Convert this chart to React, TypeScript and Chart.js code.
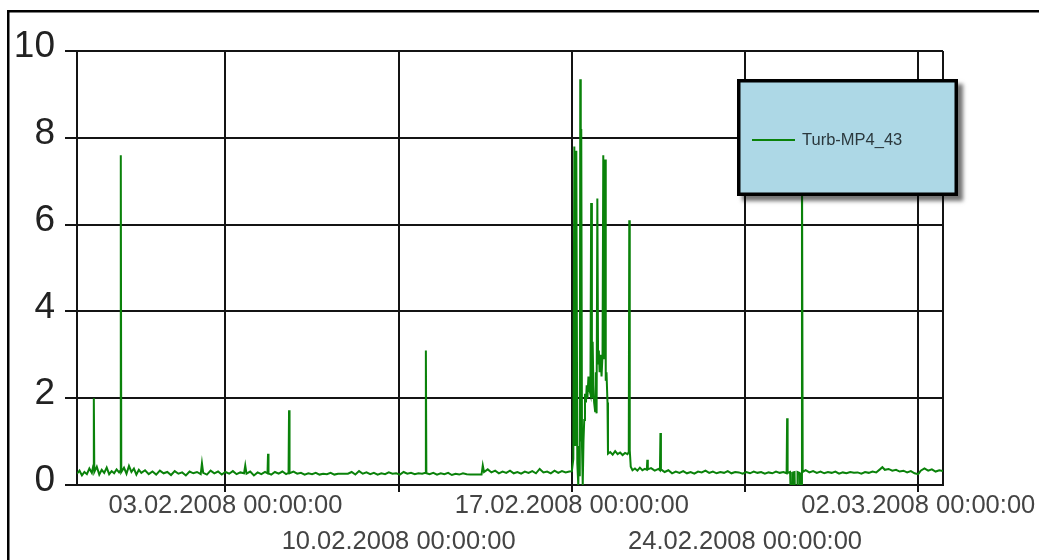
import React, { useEffect, useRef } from "react";
import { Chart, registerables } from "chart.js";

Chart.register(...registerables);

// Days since 28.01.2008 00:00
const sampleDays = [
  0.0, 0.1, 0.2, 0.3, 0.4, 0.5, 0.6, 0.66, 0.68, 0.7, 0.8, 0.9, 1.0, 1.1, 1.2, 1.3, 1.4, 1.5, 1.6, 1.7, 1.75, 1.77, 1.79,
  1.9, 2.0, 2.1, 2.2, 2.3, 2.4, 2.5, 2.6, 2.75, 2.9, 3.05, 3.2, 3.35, 3.5, 3.65, 3.8, 3.95, 4.1, 4.25, 4.4, 4.55, 4.7,
  4.85, 5.0, 5.05, 5.1, 5.25, 5.4, 5.55, 5.7, 5.85, 6.0, 6.15, 6.3, 6.45, 6.6, 6.75, 6.8, 6.85, 7.0, 7.15, 7.3, 7.45,
  7.6, 7.7, 7.72, 7.74, 7.85, 8.0, 8.15, 8.3, 8.45, 8.55, 8.57, 8.59, 8.75, 8.9, 9.05, 9.2, 9.35, 9.5, 9.65, 9.8, 9.95,
  10.1, 10.25, 10.4, 10.55, 10.95, 11.1, 11.25, 11.4, 11.55, 11.7, 11.85, 12.0, 12.15, 12.3, 12.45, 12.6, 12.75, 12.9,
  13.05, 13.2, 13.35, 13.5, 13.65, 13.8, 13.95, 14.08, 14.1, 14.12, 14.25, 14.4, 14.55, 14.7, 14.85, 15.0, 15.15, 15.3,
  15.45, 15.6, 15.75, 15.9, 16.35, 16.4, 16.45, 16.6, 16.75, 16.9, 17.05, 17.2, 17.35, 17.5, 17.65, 17.8, 17.95, 18.1,
  18.25, 18.4, 18.55, 18.7, 18.85, 19.0, 19.15, 19.3, 19.45, 19.6, 19.75, 19.9,
  20.0, 20.06, 20.1, 20.14, 20.18, 20.22, 20.26, 20.29, 20.32, 20.34, 20.36, 20.38, 20.41, 20.44, 20.47, 20.5, 20.53,
  20.57, 20.6, 20.63, 20.67, 20.71, 20.75, 20.78, 20.81, 20.84, 20.87, 20.9, 20.94, 20.97, 21.0, 21.03, 21.06, 21.09,
  21.12, 21.16, 21.2, 21.24, 21.27, 21.3, 21.34, 21.37, 21.4, 21.44, 21.46, 21.55, 21.65, 21.75, 21.85, 21.95, 22.05,
  22.15, 22.25, 22.3, 22.32, 22.34, 22.38, 22.45, 22.55, 22.65, 22.75, 22.85, 22.95, 23.03, 23.05, 23.07, 23.2, 23.35,
  23.5, 23.56, 23.58, 23.6, 23.75, 23.9, 24.05, 24.2, 24.35, 24.5, 24.65, 24.8, 24.95, 25.1, 25.25, 25.4, 25.55, 25.7,
  25.85, 26.0, 26.15, 26.3, 26.45, 26.6, 26.75, 26.9, 27.05, 27.2, 27.35, 27.5, 27.65, 27.8, 27.95, 28.1, 28.25, 28.4,
  28.55, 28.68, 28.7, 28.72, 28.82, 28.85, 28.92, 28.94, 29.0, 29.02, 29.1, 29.12, 29.2, 29.22, 29.28, 29.3, 29.33,
  29.45, 29.6, 29.75, 29.9, 30.05, 30.2, 30.35, 30.5, 30.65, 30.8, 30.95, 31.1, 31.25, 31.4, 31.55, 31.7, 31.85, 32.0,
  32.15, 32.3, 32.45, 32.55, 32.65, 32.8, 32.95, 33.1, 33.25, 33.4, 33.55, 33.7, 33.85, 34.0, 34.1, 34.25, 34.4, 34.55,
  34.7, 34.85, 35.0,
];

const turbidity = [
  0.26, 0.33, 0.22, 0.3, 0.25, 0.38, 0.28, 0.45, 2.0, 0.3, 0.42, 0.24, 0.35, 0.28, 0.4, 0.25, 0.32, 0.27, 0.36, 0.29, 0.33, 7.6, 0.3,
  0.4, 0.26, 0.44, 0.3, 0.38, 0.24, 0.35, 0.28, 0.34, 0.25, 0.31, 0.24, 0.33, 0.27, 0.3, 0.23, 0.32, 0.26, 0.29, 0.22, 0.31, 0.27,
  0.3, 0.25, 0.5, 0.28, 0.24, 0.33, 0.27, 0.31, 0.24, 0.3, 0.26, 0.32, 0.25, 0.29, 0.27, 0.45, 0.26, 0.31, 0.22, 0.29, 0.25,
  0.3, 0.27, 0.72, 0.27, 0.24, 0.3, 0.26, 0.31, 0.25, 0.28, 1.72, 0.27, 0.31, 0.26, 0.28, 0.24, 0.27, 0.25, 0.28, 0.24, 0.26,
  0.25, 0.28, 0.24, 0.26, 0.26, 0.3, 0.24, 0.32, 0.26, 0.29, 0.25, 0.28, 0.24, 0.27, 0.25, 0.29, 0.26, 0.27,
  0.24, 0.3, 0.26, 0.28, 0.25, 0.27, 0.26, 0.28, 3.1, 0.27, 0.25, 0.28, 0.24, 0.27, 0.25, 0.28, 0.23, 0.26,
  0.24, 0.27, 0.25, 0.24, 0.24, 0.45, 0.3, 0.36, 0.29, 0.33, 0.27, 0.31, 0.28, 0.33, 0.27, 0.3, 0.26, 0.31,
  0.28, 0.32, 0.27, 0.37, 0.29, 0.31, 0.27, 0.33, 0.28, 0.32, 0.29, 0.31,
  0.32, 0.6, 7.8, 0.9, 7.7, 0.5, 0.0, 0.9, 0.2, 9.35, 1.0, 8.2, 0.9, 0.0, 1.0, 1.5, 2.1,
  1.9, 2.3, 2.0, 2.5, 2.2, 2.1, 6.5, 2.0, 3.3, 2.3, 1.9, 1.7, 2.6, 1.65, 6.6, 2.8, 3.1,
  2.6, 3.0, 2.5, 3.0, 7.6, 2.9, 7.5, 2.4, 2.6, 1.9, 0.72, 0.76, 0.7, 0.78, 0.71, 0.75, 0.69,
  0.74, 0.71, 0.76, 6.1, 0.8, 0.42, 0.34, 0.38, 0.33, 0.4, 0.34, 0.37, 0.35, 0.58, 0.36, 0.39, 0.33,
  0.37, 0.34, 1.2, 0.36, 0.3, 0.34, 0.27, 0.31, 0.28, 0.32, 0.27, 0.3, 0.26, 0.31, 0.29, 0.33, 0.28, 0.31,
  0.27, 0.3, 0.28, 0.32, 0.27, 0.3, 0.29, 0.26, 0.3, 0.27, 0.31, 0.28, 0.3, 0.26, 0.29, 0.27, 0.31, 0.28,
  0.3, 0.27, 1.54, 0.28, 0.3, -0.3, -0.3, 0.29, 0.3, -0.3, -0.3, 0.3, 0.28, -0.3, -0.3, 8.0, 0.3,
  0.34, 0.29, 0.32, 0.28, 0.31, 0.27, 0.3, 0.28, 0.31, 0.26, 0.29, 0.27, 0.3, 0.28, 0.29, 0.26, 0.3, 0.28,
  0.31, 0.29, 0.36, 0.41, 0.35, 0.37, 0.33, 0.35, 0.31, 0.33, 0.29, 0.32, 0.27, 0.25, 0.33, 0.38, 0.33, 0.36,
  0.31, 0.34, 0.32,
];

const seriesName = "Turb-MP4_43";
const xTickDays = [6, 13, 20, 27, 34];
const xTickLabels = [
  "03.02.2008 00:00:00",
  "10.02.2008 00:00:00",
  "17.02.2008 00:00:00",
  "24.02.2008 00:00:00",
  "02.03.2008 00:00:00",
];
const xMinDay = 0;
const xMaxDay = 35;
const yTicks = [0, 2, 4, 6, 8, 10];

const FONT = "'Liberation Sans', Arial, sans-serif";

const decorPlugin = {
  id: "decor",
  beforeDraw(chart: any) {
    const ctx = chart.ctx;
    ctx.save();
    ctx.fillStyle = "#ffffff";
    ctx.fillRect(0, 0, chart.width, chart.height);
    ctx.fillStyle = "#000000";
    ctx.fillRect(7, 10, chart.width - 7, 2.5);
    ctx.fillRect(7, 10, 2.5, chart.height - 10);
    ctx.restore();
  },
  afterDraw(chart: any) {
    const ctx = chart.ctx;
    const ds = chart.data.datasets[0];
    const bx = 737, by = 79, bw = 221, bh = 117, bt = 3.5;
    ctx.save();
    ctx.shadowColor = "rgba(0,0,0,0.55)";
    ctx.shadowOffsetX = 5;
    ctx.shadowOffsetY = 5;
    ctx.shadowBlur = 4;
    ctx.fillStyle = "#000000";
    ctx.fillRect(bx, by, bw, bh);
    ctx.restore();
    ctx.save();
    ctx.fillStyle = "#ADD8E6";
    ctx.fillRect(bx + bt, by + bt, bw - 2 * bt, bh - 2 * bt);
    const ly = 140;
    ctx.strokeStyle = ds.borderColor;
    ctx.lineWidth = 1.8;
    ctx.beginPath();
    ctx.moveTo(752, ly);
    ctx.lineTo(795, ly);
    ctx.stroke();
    ctx.fillStyle = "#2b383d";
    ctx.font = `16.5px ${FONT}`;
    ctx.textBaseline = "middle";
    ctx.textAlign = "left";
    ctx.fillText(ds.label, 802, ly);
    ctx.restore();
  },
};

export default function App() {
  const ref = useRef<HTMLCanvasElement | null>(null);

  useEffect(() => {
    if (!ref.current) return;
    const points = sampleDays.map((d, i) => ({ x: d, y: turbidity[i] }));
    const gridColor = "#141414";
    const chart = new Chart(ref.current, {
      type: "line",
      data: {
        datasets: [
          {
            label: seriesName,
            data: points,
            borderColor: "#0a820a",
            borderWidth: 2,
            pointRadius: 0,
            tension: 0,
            fill: false,
          },
        ],
      },
      options: {
        animation: false,
        responsive: false,
        devicePixelRatio: 1,
        events: [],
        layout: { padding: { left: 0, top: 51, right: 96, bottom: 0 } },
        plugins: {
          legend: { display: false },
          tooltip: { enabled: false },
          title: { display: false },
        },
        scales: {
          x: {
            type: "linear",
            min: xMinDay,
            max: xMaxDay,
            afterBuildTicks(scale: any) {
              scale.ticks = [xMinDay, ...xTickDays, xMaxDay].map((v) => ({ value: v }));
            },
            afterFit(scale: any) {
              scale.height = 75;
            },
            grid: {
              color: gridColor,
              lineWidth: 2,
              tickLength: 7,
              tickColor: (ctx: any) => {
                const v = ctx.tick ? ctx.tick.value : null;
                return v === xMinDay || v === xMaxDay ? "rgba(0,0,0,0)" : gridColor;
              },
            },
            border: { display: true, color: gridColor, width: 2 },
            ticks: {
              autoSkip: false,
              maxRotation: 0,
              minRotation: 0,
              padding: -4,
              color: "#444444",
              font: { family: FONT, size: 25.5, lineHeight: 1.42 },
              callback: (value: any) => {
                const idx = xTickDays.indexOf(Number(value));
                if (idx < 0) return "";
                return idx % 2 === 1 ? ["", xTickLabels[idx]] : xTickLabels[idx];
              },
            },
          },
          y: {
            type: "linear",
            min: 0,
            max: 10,
            afterBuildTicks(scale: any) {
              scale.ticks = yTicks.map((v) => ({ value: v }));
            },
            afterFit(scale: any) {
              scale.width = 77;
            },
            grid: { color: gridColor, lineWidth: 2, tickLength: 12 },
            border: { display: true, color: gridColor, width: 2 },
            ticks: {
              padding: 10,
              labelOffset: -4,
              color: "#222222",
              font: { family: FONT, size: 37, lineHeight: 1.2 },
              callback: (value: any) => String(value),
            },
          },
        },
      },
      plugins: [decorPlugin],
    });
    return () => chart.destroy();
  }, []);

  return (
    <div style={{ position: "fixed", left: 0, top: 0, width: 1039, height: 560, background: "#fff" }}>
      <canvas ref={ref} width={1039} height={560} style={{ display: "block" }} />
    </div>
  );
}
